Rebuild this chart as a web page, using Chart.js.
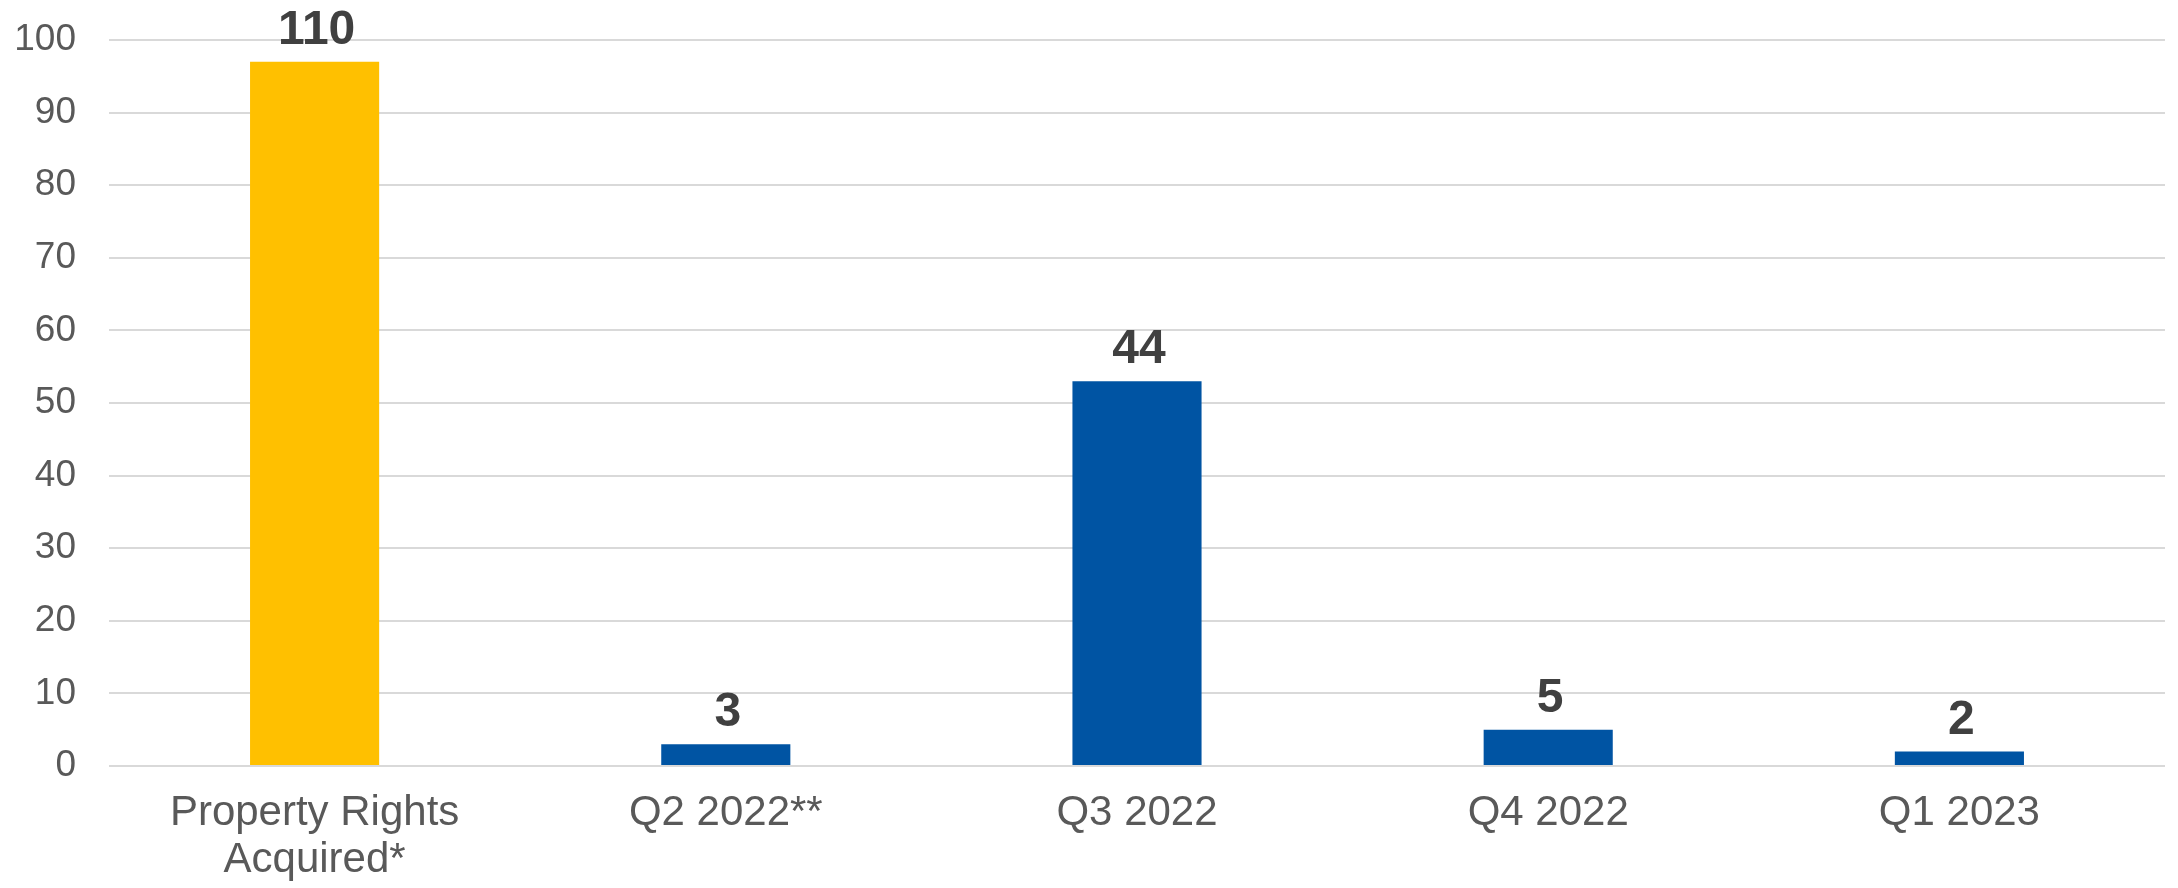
<!DOCTYPE html>
<html>
<head>
<meta charset="utf-8">
<script src="https://cdn.jsdelivr.net/npm/chart.js@4.4.0/dist/chart.umd.min.js"></script>
<style>
html,body{margin:0;padding:0;background:#fff;}
#wrap{width:2178px;height:888px;position:relative;}
</style>
</head>
<body>
<div id="wrap"><canvas id="c" width="2178" height="888"></canvas></div>
<script>
const categories = [["Property Rights","Acquired*"], "Q2 2022**", "Q3 2022", "Q4 2022", "Q1 2023"];
const barValues = [97, 3, 53, 5, 2];
const dataLabels = ["110", "3", "44", "5", "2"];
const barColors = ["#FFC000", "#0054A3", "#0054A3", "#0054A3", "#0054A3"];
const yTicks = [0, 10, 20, 30, 40, 50, 60, 70, 80, 90, 100];

const FONT = "'Liberation Sans', Arial, sans-serif";

const labelPlugin = {
  id: 'barLabels',
  afterDatasetsDraw(chart) {
    const ctx = chart.ctx;
    const meta = chart.getDatasetMeta(0);
    ctx.save();
    ctx.font = "bold 48px " + FONT;
    ctx.fillStyle = "#404040";
    ctx.textAlign = "center";
    ctx.textBaseline = "middle";
    meta.data.forEach((bar, i) => {
      ctx.fillText(dataLabels[i], bar.x + 2, bar.y - 31);
    });
    ctx.restore();
  }
};

new Chart(document.getElementById('c'), {
  type: 'bar',
  data: {
    labels: categories,
    datasets: [{
      data: barValues,
      backgroundColor: barColors,
      borderWidth: 0,
      barPercentage: 0.314,
      categoryPercentage: 1.0
    }]
  },
  options: {
    responsive: false,
    animation: false,
    layout: { padding: { top: 40, right: 13, bottom: 0, left: 0 } },
    plugins: { legend: { display: false }, tooltip: { enabled: false } },
    scales: {
      x: {
        grid: { display: false, drawTicks: false },
        border: { display: false },
        ticks: {
          color: "#595959",
          font: { family: FONT, size: 42, lineHeight: 1.12 },
          padding: 24,
          maxRotation: 0,
          autoSkip: false
        },
        afterFit(scale) { scale.height = 122; scale.paddingLeft = 0; scale.paddingRight = 0; }
      },
      y: {
        min: 0,
        max: 100,
        afterBuildTicks(scale) { scale.ticks = yTicks.map(v => ({ value: v })); },
        grid: { color: "#d9d9d9", lineWidth: 2, drawTicks: false },
        border: { display: false },
        ticks: {
          color: "#595959",
          font: { family: FONT, size: 37 },
          padding: 33,
          maxRotation: 0
        },
        afterFit(scale) { scale.width = 109; scale.paddingTop = 0; scale.paddingBottom = 0; }
      }
    }
  },
  plugins: [labelPlugin]
});
</script>
</body>
</html>
